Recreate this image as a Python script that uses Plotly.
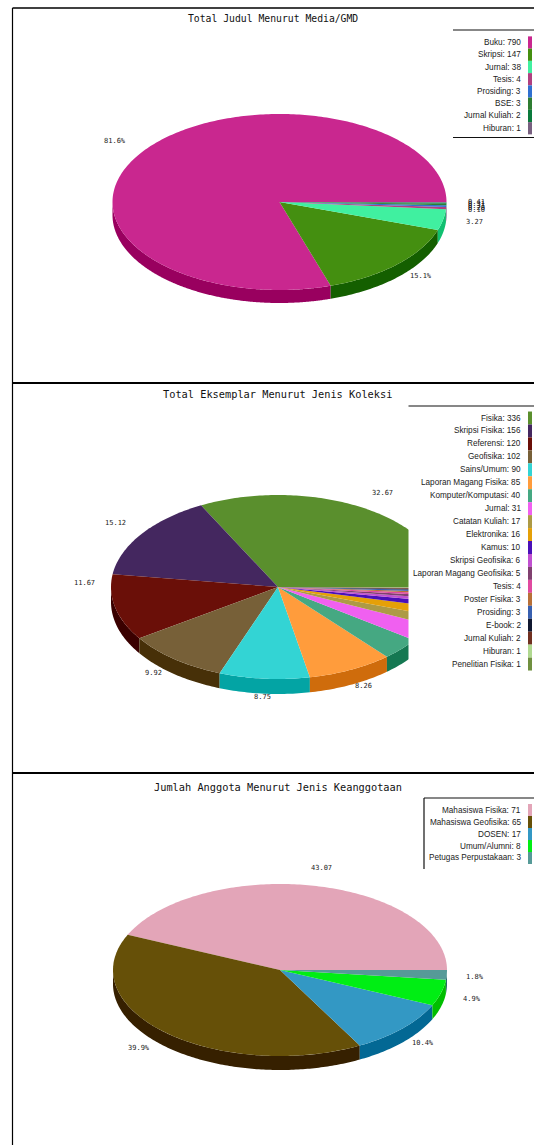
import math
import plotly.graph_objects as go

# ---- data
titles = ["Total Judul Menurut Media/GMD",
          "Total Eksemplar Menurut Jenis Koleksi",
          "Jumlah Anggota Menurut Jenis Keanggotaan"]

cats1 = ["Buku", "Skripsi", "Jurnal", "Tesis", "Prosiding", "BSE", "Jurnal Kuliah", "Hiburan"]
vals1 = [790, 147, 38, 4, 3, 3, 2, 1]
pct1 = ["81.6%", "15.1%", "3.27", "0.41", "0.31", "0.31", "0.20", "0.10"]

cats2 = ["Fisika", "Skripsi Fisika", "Referensi", "Geofisika", "Sains/Umum",
         "Laporan Magang Fisika", "Komputer/Komputasi", "Jurnal", "Catatan Kuliah",
         "Elektronika", "Kamus", "Skripsi Geofisika", "Laporan Magang Geofisika", "Tesis",
         "Poster Fisika", "Prosiding", "E-book", "Jurnal Kuliah", "Hiburan", "Penelitian Fisika"]
vals2 = [336, 156, 120, 102, 90, 85, 40, 31, 17, 16, 10, 6, 5, 4, 3, 3, 2, 2, 1, 1]
pct2 = ["32.67", "15.12", "11.67", "9.92", "8.75", "8.26"]

cats3 = ["Mahasiswa Fisika", "Mahasiswa Geofisika", "DOSEN", "Umum/Alumni", "Petugas Perpustakaan"]
vals3 = [71, 65, 17, 8, 3]
pct3 = ["43.07", "39.9%", "10.4%", "4.9%", "1.8%"]

colors1 = ["#c9278f", "#448f10", "#40f0a0", "#b04080", "#3070d0", "#2e7d32", "#0a7a3c", "#786080"]
colors2 = ["#5a8f2d", "#44275f", "#6a0f08", "#776038", "#33d4d4", "#ff9c3c", "#45a882", "#f060f0",
           "#ad9a45", "#e5a008", "#4a10b8", "#c050d0", "#804070", "#e04aa0", "#b87038",
           "#3860b0", "#101830", "#703020", "#b0d890", "#709040"]
colors3 = ["#e3a5b8", "#665008", "#3398c4", "#00ee14", "#569a98"]

PAGE_W, PAGE_H = 534, 1145
RX = 167
panels = [
    dict(c=(279.5, 202), ry=88, d=13, cats=cats1, vals=vals1, cols=colors1, pct=pct1, title_y=18,
         title_x=272.5, title_size=9.75, lx=453, ltop=30, lbot=137.5, lrow=12.25, ly0=42.5,
         lines=("top", "bottom"),
         labs=[(115, 141), (421, 276), (474, 222), (476, 202), (476, 204), (476, 206), (476, 208), (476, 210)]),
    dict(c=(278, 587), ry=92, d=15, cats=cats2, vals=vals2, cols=colors2, pct=pct2, title_y=394,
         title_x=277.5, title_size=10.3, lx=408.5, ltop=406, lbot=672, lrow=12.95, ly0=418,
         lines=("top",),
         labs=[(382, 493), (115, 523), (84, 583), (153, 673), (262, 697), (363, 686)]),
    dict(c=(280, 970), ry=86, d=14, cats=cats3, vals=vals3, cols=colors3, pct=pct3, title_y=787,
         title_x=278, title_size=10.3, lx=424, ltop=798, lbot=869, lrow=12, ly0=810,
         lines=("top", "left"),
         labs=[(321, 868), (139, 1048), (423, 1043), (472, 999), (475, 977)]),
]
SWATCH_X0, SWATCH_X1, TEXT_RIGHT = 528, 532, 523

fig = go.Figure()
shapes, annos = [], []


def darken(hexcol, delta=48):
    r, g, b = (int(hexcol[i:i + 2], 16) for i in (1, 3, 5))
    return f"rgb({max(r - delta, 0)},{max(g - delta, 0)},{max(b - delta, 0)})"


def hline(x0, x1, y, w=1.2):
    return dict(type="line", xref="paper", yref="paper", layer="above", x0=x0 / PAGE_W, x1=x1 / PAGE_W,
                y0=1 - y / PAGE_H, y1=1 - y / PAGE_H, line=dict(color="#111", width=w))


# one full-page pair of axes per panel, in unit-circle data coordinates
for i, p in enumerate(panels):
    suffix = "" if i == 0 else str(i + 1)
    cx, cy = p["c"]
    ry = p["ry"]
    layout_x = dict(domain=[0, 1], range=[-cx / RX, (PAGE_W - cx) / RX], visible=False, fixedrange=True)
    layout_y = dict(domain=[0, 1], range=[-(PAGE_H - cy) / ry, cy / ry], visible=False, fixedrange=True)
    fig.update_layout({f"xaxis{suffix}": layout_x, f"yaxis{suffix}": layout_y})
    ax = dict(xaxis=f"x{suffix}", yaxis=f"y{suffix}")

    total = sum(p["vals"])
    start = 0.0
    arcs = []
    for v, col in zip(p["vals"], p["cols"]):
        end = start + v / total * 2 * math.pi
        n = max(3, int((end - start) * 60))
        arcs.append((start, end, n, col))
        start = end
    dz = p["d"] / ry

    # side walls: the part of each slice's rim on the front half of the pie
    for a0, a1, n, col in arcs:
        lo, hi = max(a0, math.pi), min(a1, 2 * math.pi)
        if hi <= lo:
            continue
        ts = [lo + (hi - lo) * k / n for k in range(n + 1)]
        xs = [math.cos(t) for t in ts] + [math.cos(t) for t in reversed(ts)]
        ys = [math.sin(t) for t in ts] + [math.sin(t) - dz for t in reversed(ts)]
        fig.add_trace(go.Scatter(x=xs, y=ys, fill="toself", fillcolor=darken(col), mode="none",
                                 hoverinfo="skip", showlegend=False, **ax))
    # top faces
    for a0, a1, n, col in arcs:
        ts = [a0 + (a1 - a0) * k / n for k in range(n + 1)]
        xs = [0] + [math.cos(t) for t in ts] + [0]
        ys = [0] + [math.sin(t) for t in ts] + [0]
        fig.add_trace(go.Scatter(x=xs, y=ys, fill="toself", fillcolor=col, mode="none",
                                 hoverinfo="skip", showlegend=False, **ax))

    # title
    annos.append(dict(x=p["title_x"] / PAGE_W, y=1 - p["title_y"] / PAGE_H, text=titles[i], showarrow=False,
                      xref="paper", yref="paper", xanchor="center", yanchor="middle",
                      font=dict(family="DejaVu Sans Mono", size=p["title_size"], color="#111")))
    # legend box masks the pie behind it
    shapes.append(dict(type="rect", xref="paper", yref="paper", layer="above",
                       x0=p["lx"] / PAGE_W, x1=1, y0=1 - p["lbot"] / PAGE_H, y1=1 - p["ltop"] / PAGE_H,
                       fillcolor="white", line=dict(width=0)))
    if "top" in p["lines"]:
        shapes.append(hline(p["lx"], PAGE_W, p["ltop"]))
    if "bottom" in p["lines"]:
        shapes.append(hline(p["lx"], PAGE_W, p["lbot"]))
    if "left" in p["lines"]:
        shapes.append(dict(type="line", xref="paper", yref="paper", layer="above",
                           x0=p["lx"] / PAGE_W, x1=p["lx"] / PAGE_W, y0=1 - p["lbot"] / PAGE_H,
                           y1=1 - p["ltop"] / PAGE_H, line=dict(color="#111", width=1.2)))
    for k, (c, v, col) in enumerate(zip(p["cats"], p["vals"], p["cols"])):
        yy = p["ly0"] + k * p["lrow"]
        annos.append(dict(x=TEXT_RIGHT / PAGE_W, y=1 - yy / PAGE_H, text=f"{c}: {v}", showarrow=False,
                          xref="paper", yref="paper", xanchor="right", yanchor="middle",
                          font=dict(family="Liberation Sans", size=8.2, color="#222")))
        shapes.append(dict(type="rect", xref="paper", yref="paper", layer="above",
                           x0=SWATCH_X0 / PAGE_W, x1=SWATCH_X1 / PAGE_W,
                           y0=1 - (yy + p["lrow"] / 2) / PAGE_H, y1=1 - (yy - p["lrow"] / 2) / PAGE_H,
                           fillcolor=col, line=dict(width=0)))
    # percentage labels
    for txt, (lx, ly) in zip(p["pct"], p["labs"]):
        annos.append(dict(x=lx / PAGE_W, y=1 - ly / PAGE_H, text=txt, showarrow=False,
                          xref="paper", yref="paper", xanchor="center", yanchor="middle",
                          font=dict(family="DejaVu Sans Mono", size=7, color="#222")))

# outer frame and dividers
for x0, y0, x1, y1, w in [(12.5, 8, 534, 8, 1.5), (12.5, 8, 12.5, 1145, 1.2),
                          (12.5, 383, 534, 383, 2), (12.5, 773, 534, 773, 2)]:
    shapes.append(dict(type="line", xref="paper", yref="paper", layer="above",
                       x0=x0 / PAGE_W, x1=x1 / PAGE_W, y0=1 - y0 / PAGE_H, y1=1 - y1 / PAGE_H,
                       line=dict(color="#000", width=w)))

fig.update_layout(width=PAGE_W, height=PAGE_H, margin=dict(l=0, r=0, t=0, b=0), autosize=False,
                  paper_bgcolor="white", plot_bgcolor="rgba(0,0,0,0)", showlegend=False,
                  shapes=shapes, annotations=annos)
fig.write_html("out.html", config=dict(displayModeBar=False),
               post_script="document.body.style.margin='0';document.documentElement.style.overflow='hidden';")
